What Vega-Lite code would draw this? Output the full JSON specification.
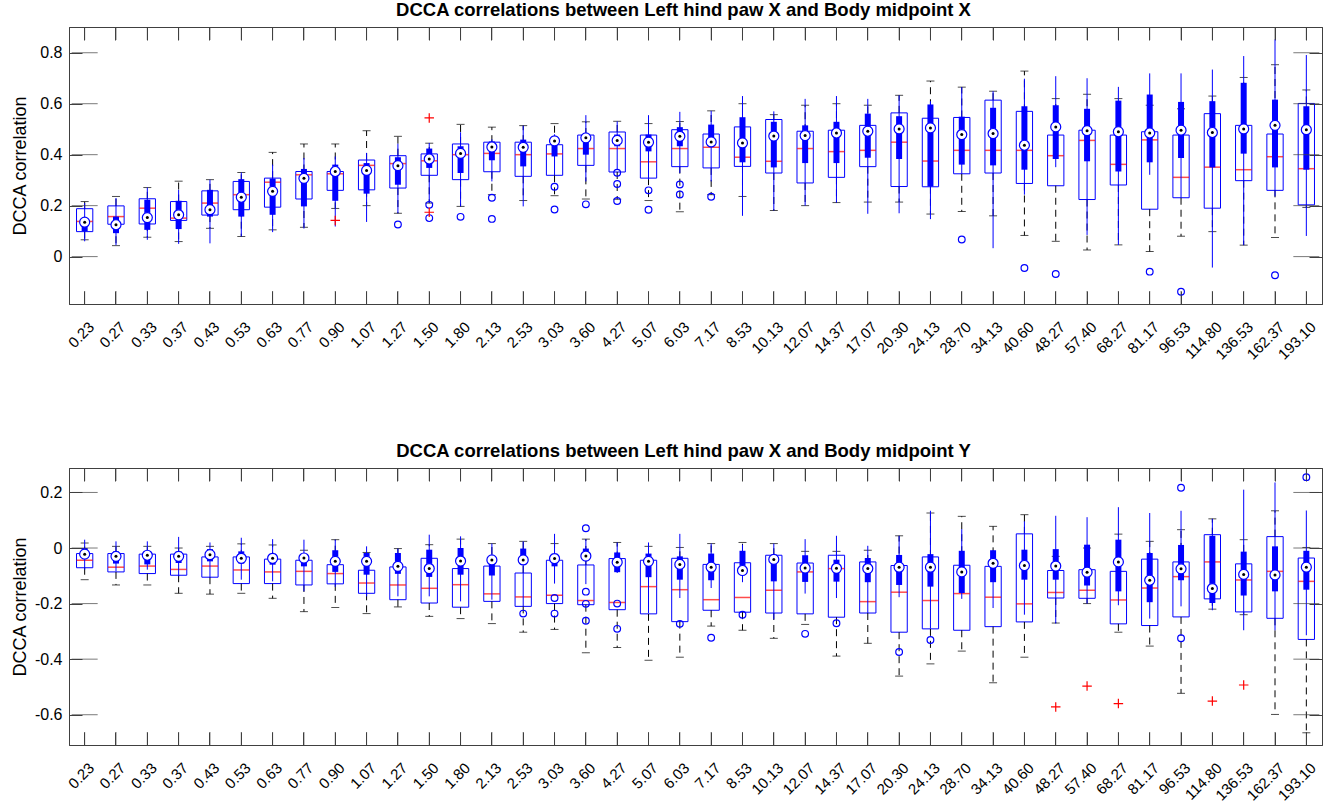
{
  "$schema": "https://vega.github.io/schema/vega-lite/v6.json",
  "padding": {"left": 10, "top": 0, "right": 0, "bottom": 0},
  "background": "white",
  "datasets": {
    "top": [
      {"s":"0.23","q1":0.098,"md":0.138,"q3":0.188,"lo":0.066,"hi":0.216,"c1":0.100,"cm":0.135,"c3":0.150,"cl":0.060,"ch":0.210},
      {"s":"0.27","q1":0.127,"md":0.157,"q3":0.199,"lo":0.043,"hi":0.236,"c1":0.092,"cm":0.125,"c3":0.157,"cl":0.045,"ch":0.230},
      {"s":"0.33","q1":0.128,"md":0.190,"q3":0.227,"lo":0.076,"hi":0.271,"c1":0.105,"cm":0.153,"c3":0.223,"cl":0.066,"ch":0.271},
      {"s":"0.37","q1":0.142,"md":0.151,"q3":0.216,"lo":0.059,"hi":0.296,"c1":0.108,"cm":0.164,"c3":0.219,"cl":0.050,"ch":0.262},
      {"s":"0.43","q1":0.163,"md":0.210,"q3":0.258,"lo":0.111,"hi":0.302,"c1":0.157,"cm":0.184,"c3":0.262,"cl":0.052,"ch":0.302},
      {"s":"0.53","q1":0.184,"md":0.243,"q3":0.295,"lo":0.079,"hi":0.330,"c1":0.157,"cm":0.233,"c3":0.304,"cl":0.079,"ch":0.330},
      {"s":"0.63","q1":0.194,"md":0.292,"q3":0.308,"lo":0.105,"hi":0.409,"c1":0.164,"cm":0.256,"c3":0.306,"cl":0.096,"ch":0.361},
      {"s":"0.77","q1":0.226,"md":0.321,"q3":0.334,"lo":0.115,"hi":0.442,"c1":0.197,"cm":0.307,"c3":0.344,"cl":0.110,"ch":0.387},
      {"s":"0.90","q1":0.260,"md":0.325,"q3":0.334,"lo":0.189,"hi":0.442,"c1":0.219,"cm":0.334,"c3":0.361,"cl":0.118,"ch":0.393},
      {"s":"1.07","q1":0.262,"md":0.358,"q3":0.379,"lo":0.200,"hi":0.494,"c1":0.247,"cm":0.338,"c3":0.367,"cl":0.136,"ch":0.407},
      {"s":"1.27","q1":0.269,"md":0.365,"q3":0.396,"lo":0.170,"hi":0.472,"c1":0.282,"cm":0.357,"c3":0.390,"cl":0.170,"ch":0.443},
      {"s":"1.50","q1":0.319,"md":0.376,"q3":0.403,"lo":0.210,"hi":0.445,"c1":0.348,"cm":0.383,"c3":0.424,"cl":0.210,"ch":0.446},
      {"s":"1.80","q1":0.302,"md":0.400,"q3":0.442,"lo":0.197,"hi":0.519,"c1":0.328,"cm":0.405,"c3":0.433,"cl":0.197,"ch":0.488},
      {"s":"2.13","q1":0.333,"md":0.405,"q3":0.449,"lo":0.243,"hi":0.508,"c1":0.378,"cm":0.430,"c3":0.452,"cl":0.295,"ch":0.460},
      {"s":"2.53","q1":0.315,"md":0.400,"q3":0.449,"lo":0.220,"hi":0.514,"c1":0.354,"cm":0.429,"c3":0.459,"cl":0.197,"ch":0.514},
      {"s":"3.03","q1":0.319,"md":0.403,"q3":0.439,"lo":0.239,"hi":0.522,"c1":0.393,"cm":0.454,"c3":0.472,"cl":0.320,"ch":0.480},
      {"s":"3.60","q1":0.358,"md":0.424,"q3":0.477,"lo":0.226,"hi":0.529,"c1":0.400,"cm":0.466,"c3":0.479,"cl":0.295,"ch":0.555},
      {"s":"4.27","q1":0.332,"md":0.424,"q3":0.489,"lo":0.225,"hi":0.531,"c1":0.433,"cm":0.456,"c3":0.479,"cl":0.340,"ch":0.531},
      {"s":"5.07","q1":0.308,"md":0.372,"q3":0.477,"lo":0.220,"hi":0.522,"c1":0.413,"cm":0.449,"c3":0.479,"cl":0.302,"ch":0.555},
      {"s":"6.03","q1":0.353,"md":0.424,"q3":0.498,"lo":0.176,"hi":0.530,"c1":0.433,"cm":0.472,"c3":0.508,"cl":0.328,"ch":0.568},
      {"s":"7.17","q1":0.348,"md":0.429,"q3":0.481,"lo":0.243,"hi":0.572,"c1":0.433,"cm":0.450,"c3":0.518,"cl":0.295,"ch":0.572},
      {"s":"8.53","q1":0.354,"md":0.390,"q3":0.509,"lo":0.236,"hi":0.600,"c1":0.370,"cm":0.446,"c3":0.547,"cl":0.160,"ch":0.630},
      {"s":"10.13","q1":0.328,"md":0.374,"q3":0.538,"lo":0.181,"hi":0.557,"c1":0.350,"cm":0.473,"c3":0.529,"cl":0.181,"ch":0.570},
      {"s":"12.07","q1":0.289,"md":0.424,"q3":0.492,"lo":0.200,"hi":0.594,"c1":0.367,"cm":0.475,"c3":0.515,"cl":0.200,"ch":0.619},
      {"s":"14.37","q1":0.311,"md":0.412,"q3":0.496,"lo":0.212,"hi":0.600,"c1":0.367,"cm":0.485,"c3":0.529,"cl":0.212,"ch":0.630},
      {"s":"17.07","q1":0.353,"md":0.417,"q3":0.515,"lo":0.214,"hi":0.594,"c1":0.388,"cm":0.492,"c3":0.561,"cl":0.168,"ch":0.619},
      {"s":"20.30","q1":0.275,"md":0.449,"q3":0.564,"lo":0.214,"hi":0.633,"c1":0.383,"cm":0.501,"c3":0.551,"cl":0.170,"ch":0.633},
      {"s":"24.13","q1":0.274,"md":0.375,"q3":0.543,"lo":0.167,"hi":0.689,"c1":0.275,"cm":0.505,"c3":0.597,"cl":0.147,"ch":0.610},
      {"s":"28.70","q1":0.325,"md":0.417,"q3":0.546,"lo":0.177,"hi":0.665,"c1":0.361,"cm":0.479,"c3":0.549,"cl":0.325,"ch":0.665},
      {"s":"34.13","q1":0.328,"md":0.417,"q3":0.614,"lo":0.160,"hi":0.649,"c1":0.358,"cm":0.483,"c3":0.584,"cl":0.033,"ch":0.649},
      {"s":"40.60","q1":0.287,"md":0.417,"q3":0.570,"lo":0.083,"hi":0.728,"c1":0.341,"cm":0.437,"c3":0.590,"cl":0.243,"ch":0.698},
      {"s":"48.27","q1":0.278,"md":0.396,"q3":0.477,"lo":0.060,"hi":0.620,"c1":0.383,"cm":0.509,"c3":0.594,"cl":0.351,"ch":0.708},
      {"s":"57.40","q1":0.224,"md":0.456,"q3":0.496,"lo":0.026,"hi":0.637,"c1":0.374,"cm":0.494,"c3":0.580,"cl":0.085,"ch":0.700},
      {"s":"68.27","q1":0.281,"md":0.362,"q3":0.477,"lo":0.046,"hi":0.620,"c1":0.334,"cm":0.490,"c3":0.612,"cl":0.046,"ch":0.666},
      {"s":"81.17","q1":0.186,"md":0.458,"q3":0.490,"lo":0.020,"hi":0.594,"c1":0.370,"cm":0.485,"c3":0.636,"cl":0.321,"ch":0.719},
      {"s":"96.53","q1":0.231,"md":0.311,"q3":0.477,"lo":0.080,"hi":0.580,"c1":0.387,"cm":0.496,"c3":0.607,"cl":0.231,"ch":0.719},
      {"s":"114.80","q1":0.190,"md":0.351,"q3":0.561,"lo":0.098,"hi":0.630,"c1":0.350,"cm":0.487,"c3":0.610,"cl":-0.043,"ch":0.734},
      {"s":"136.53","q1":0.298,"md":0.341,"q3":0.515,"lo":0.045,"hi":0.703,"c1":0.404,"cm":0.501,"c3":0.682,"cl":0.045,"ch":0.787},
      {"s":"162.37","q1":0.260,"md":0.392,"q3":0.481,"lo":0.075,"hi":0.753,"c1":0.350,"cm":0.515,"c3":0.616,"cl":0.236,"ch":0.852},
      {"s":"193.10","q1":0.203,"md":0.345,"q3":0.601,"lo":0.193,"hi":0.654,"c1":0.341,"cm":0.498,"c3":0.590,"cl":0.081,"ch":0.791}
    ],
    "topBlue": [
      {"s":"1.27","v":0.126},{"s":"1.50","v":0.203},{"s":"1.50","v":0.151},{"s":"1.80","v":0.156},
      {"s":"2.13","v":0.231},{"s":"2.13","v":0.148},{"s":"3.03","v":0.274},{"s":"3.03","v":0.185},
      {"s":"3.60","v":0.205},{"s":"4.27","v":0.329},{"s":"4.27","v":0.285},{"s":"4.27","v":0.218},
      {"s":"5.07","v":0.260},{"s":"5.07","v":0.184},{"s":"6.03","v":0.283},{"s":"6.03","v":0.244},
      {"s":"7.17","v":0.235},{"s":"28.70","v":0.067},{"s":"40.60","v":-0.045},{"s":"48.27","v":-0.068},
      {"s":"81.17","v":-0.059},{"s":"96.53","v":-0.138},{"s":"162.37","v":-0.073}
    ],
    "topRed": [
      {"s":"0.90","v":0.142},{"s":"1.50","v":0.544},{"s":"1.50","v":0.174}
    ],
    "topYL": [{"s":"0.23","t":0},{"s":"0.23","t":0.2},{"s":"0.23","t":0.4},{"s":"0.23","t":0.6},{"s":"0.23","t":0.8}],
    "topYR": [{"s":"193.10","t":0},{"s":"193.10","t":0.2},{"s":"193.10","t":0.4},{"s":"193.10","t":0.6},{"s":"193.10","t":0.8}],
    "bot": [
      {"s":"0.23","q1":-0.071,"md":-0.044,"q3":-0.020,"lo":-0.114,"hi":0.018,"c1":-0.030,"cm":-0.022,"c3":0.000,"cl":-0.078,"ch":0.030},
      {"s":"0.27","q1":-0.086,"md":-0.069,"q3":-0.020,"lo":-0.133,"hi":0.006,"c1":-0.056,"cm":-0.030,"c3":-0.012,"cl":-0.084,"ch":0.024},
      {"s":"0.33","q1":-0.092,"md":-0.065,"q3":-0.022,"lo":-0.133,"hi":0.006,"c1":-0.059,"cm":-0.026,"c3":-0.012,"cl":-0.078,"ch":0.024},
      {"s":"0.37","q1":-0.098,"md":-0.077,"q3":-0.022,"lo":-0.163,"hi":0.000,"c1":-0.054,"cm":-0.030,"c3":-0.012,"cl":-0.102,"ch":0.040},
      {"s":"0.43","q1":-0.105,"md":-0.065,"q3":-0.032,"lo":-0.166,"hi":0.006,"c1":-0.048,"cm":-0.024,"c3":-0.004,"cl":-0.108,"ch":0.020},
      {"s":"0.53","q1":-0.128,"md":-0.079,"q3":-0.032,"lo":-0.163,"hi":0.015,"c1":-0.056,"cm":-0.037,"c3":-0.012,"cl":-0.114,"ch":0.037},
      {"s":"0.63","q1":-0.128,"md":-0.086,"q3":-0.040,"lo":-0.181,"hi":0.011,"c1":-0.060,"cm":-0.037,"c3":-0.020,"cl":-0.120,"ch":0.032},
      {"s":"0.77","q1":-0.133,"md":-0.084,"q3":-0.044,"lo":-0.229,"hi":-0.008,"c1":-0.066,"cm":-0.036,"c3":-0.024,"cl":-0.156,"ch":0.030},
      {"s":"0.90","q1":-0.129,"md":-0.092,"q3":-0.060,"lo":-0.214,"hi":0.030,"c1":-0.086,"cm":-0.048,"c3":-0.008,"cl":-0.140,"ch":0.030},
      {"s":"1.07","q1":-0.163,"md":-0.126,"q3":-0.080,"lo":-0.236,"hi":-0.016,"c1":-0.096,"cm":-0.048,"c3":-0.018,"cl":-0.174,"ch":0.006},
      {"s":"1.27","q1":-0.186,"md":-0.133,"q3":-0.068,"lo":-0.212,"hi":-0.002,"c1":-0.093,"cm":-0.066,"c3":-0.018,"cl":-0.174,"ch":-0.002},
      {"s":"1.50","q1":-0.198,"md":-0.145,"q3":-0.037,"lo":-0.246,"hi":0.012,"c1":-0.104,"cm":-0.074,"c3":-0.006,"cl":-0.174,"ch":0.048},
      {"s":"1.80","q1":-0.213,"md":-0.132,"q3":-0.074,"lo":-0.254,"hi":0.032,"c1":-0.096,"cm":-0.047,"c3":0.000,"cl":-0.192,"ch":0.042},
      {"s":"2.13","q1":-0.192,"md":-0.165,"q3":-0.065,"lo":-0.272,"hi":0.016,"c1":-0.099,"cm":-0.043,"c3":-0.036,"cl":-0.186,"ch":0.016},
      {"s":"2.53","q1":-0.210,"md":-0.176,"q3":-0.090,"lo":-0.303,"hi":0.024,"c1":-0.060,"cm":-0.043,"c3":-0.002,"cl":-0.210,"ch":0.024},
      {"s":"3.03","q1":-0.200,"md":-0.170,"q3":-0.044,"lo":-0.293,"hi":0.016,"c1":-0.066,"cm":-0.038,"c3":-0.020,"cl":-0.128,"ch":0.051},
      {"s":"3.60","q1":-0.204,"md":-0.189,"q3":-0.061,"lo":-0.377,"hi":0.032,"c1":-0.042,"cm":-0.029,"c3":-0.002,"cl":-0.130,"ch":0.032},
      {"s":"4.27","q1":-0.222,"md":-0.196,"q3":-0.038,"lo":-0.358,"hi":0.020,"c1":-0.087,"cm":-0.051,"c3":-0.016,"cl":-0.090,"ch":0.020},
      {"s":"5.07","q1":-0.237,"md":-0.139,"q3":-0.044,"lo":-0.404,"hi":0.006,"c1":-0.105,"cm":-0.048,"c3":-0.020,"cl":-0.234,"ch":0.020},
      {"s":"6.03","q1":-0.265,"md":-0.150,"q3":-0.037,"lo":-0.393,"hi":0.002,"c1":-0.114,"cm":-0.059,"c3":-0.030,"cl":-0.180,"ch":0.051},
      {"s":"7.17","q1":-0.224,"md":-0.186,"q3":-0.059,"lo":-0.281,"hi":0.016,"c1":-0.116,"cm":-0.069,"c3":-0.020,"cl":-0.144,"ch":0.016},
      {"s":"8.53","q1":-0.231,"md":-0.178,"q3":-0.053,"lo":-0.296,"hi":0.020,"c1":-0.095,"cm":-0.081,"c3":-0.010,"cl":-0.123,"ch":0.012},
      {"s":"10.13","q1":-0.234,"md":-0.152,"q3":-0.026,"lo":-0.325,"hi":0.016,"c1":-0.120,"cm":-0.041,"c3":-0.024,"cl":-0.257,"ch":0.016},
      {"s":"12.07","q1":-0.237,"md":-0.086,"q3":-0.054,"lo":-0.275,"hi":-0.012,"c1":-0.122,"cm":-0.072,"c3":-0.026,"cl":-0.164,"ch":0.032},
      {"s":"14.37","q1":-0.249,"md":-0.074,"q3":-0.026,"lo":-0.389,"hi":-0.012,"c1":-0.121,"cm":-0.073,"c3":-0.042,"cl":-0.180,"ch":0.044},
      {"s":"17.07","q1":-0.234,"md":-0.193,"q3":-0.050,"lo":-0.343,"hi":-0.008,"c1":-0.123,"cm":-0.074,"c3":-0.036,"cl":-0.234,"ch":0.008},
      {"s":"20.30","q1":-0.303,"md":-0.159,"q3":-0.063,"lo":-0.461,"hi":0.044,"c1":-0.133,"cm":-0.069,"c3":-0.025,"cl":-0.177,"ch":0.044},
      {"s":"24.13","q1":-0.291,"md":-0.189,"q3":-0.032,"lo":-0.417,"hi":0.126,"c1":-0.139,"cm":-0.069,"c3":-0.022,"cl":-0.290,"ch":0.134},
      {"s":"28.70","q1":-0.296,"md":-0.164,"q3":-0.062,"lo":-0.371,"hi":0.114,"c1":-0.162,"cm":-0.086,"c3":-0.010,"cl":-0.183,"ch":0.068},
      {"s":"34.13","q1":-0.283,"md":-0.177,"q3":-0.066,"lo":-0.485,"hi":0.078,"c1":-0.123,"cm":-0.055,"c3":-0.008,"cl":-0.216,"ch":-0.008},
      {"s":"40.60","q1":-0.266,"md":-0.201,"q3":0.051,"lo":-0.393,"hi":0.120,"c1":-0.114,"cm":-0.063,"c3":-0.006,"cl":-0.240,"ch":0.096},
      {"s":"48.27","q1":-0.180,"md":-0.160,"q3":-0.081,"lo":-0.270,"hi":-0.030,"c1":-0.114,"cm":-0.065,"c3":-0.004,"cl":-0.272,"ch":0.116},
      {"s":"57.40","q1":-0.181,"md":-0.152,"q3":-0.078,"lo":-0.200,"hi":0.000,"c1":-0.135,"cm":-0.087,"c3":0.012,"cl":-0.200,"ch":0.111},
      {"s":"68.27","q1":-0.273,"md":-0.187,"q3":-0.084,"lo":-0.303,"hi":0.050,"c1":-0.156,"cm":-0.050,"c3":0.030,"cl":-0.206,"ch":0.147},
      {"s":"81.17","q1":-0.279,"md":-0.144,"q3":-0.040,"lo":-0.353,"hi":0.024,"c1":-0.195,"cm":-0.116,"c3":-0.018,"cl":-0.254,"ch":0.126},
      {"s":"96.53","q1":-0.248,"md":-0.103,"q3":-0.050,"lo":-0.523,"hi":0.066,"c1":-0.116,"cm":-0.075,"c3":0.011,"cl":-0.210,"ch":0.134},
      {"s":"114.80","q1":-0.183,"md":-0.050,"q3":0.048,"lo":-0.220,"hi":0.105,"c1":-0.198,"cm":-0.146,"c3":0.044,"cl":-0.224,"ch":0.105},
      {"s":"136.53","q1":-0.230,"md":-0.115,"q3":-0.057,"lo":-0.240,"hi":0.030,"c1":-0.171,"cm":-0.095,"c3":-0.013,"cl":-0.296,"ch":0.210},
      {"s":"162.37","q1":-0.253,"md":-0.084,"q3":0.041,"lo":-0.599,"hi":0.134,"c1":-0.156,"cm":-0.097,"c3":0.006,"cl":-0.296,"ch":0.236},
      {"s":"193.10","q1":-0.329,"md":-0.120,"q3":-0.036,"lo":-0.665,"hi":0.002,"c1":-0.150,"cm":-0.069,"c3":-0.010,"cl":-0.314,"ch":0.135}
    ],
    "botBlue": [
      {"s":"2.53","v":-0.236},{"s":"3.03","v":-0.180},{"s":"3.03","v":-0.236},
      {"s":"3.60","v":0.071},{"s":"3.60","v":-0.157},{"s":"3.60","v":-0.201},{"s":"3.60","v":-0.262},
      {"s":"4.27","v":-0.200},{"s":"4.27","v":-0.291},{"s":"6.03","v":-0.273},{"s":"7.17","v":-0.323},
      {"s":"8.53","v":-0.240},{"s":"12.07","v":-0.309},{"s":"14.37","v":-0.271},{"s":"20.30","v":-0.374},
      {"s":"24.13","v":-0.331},{"s":"96.53","v":0.217},{"s":"96.53","v":-0.325},{"s":"193.10","v":0.255}
    ],
    "botRed": [
      {"s":"48.27","v":-0.572},{"s":"57.40","v":-0.497},{"s":"68.27","v":-0.560},
      {"s":"114.80","v":-0.551},{"s":"136.53","v":-0.493}
    ],
    "botYL": [{"s":"0.23","t":-0.6},{"s":"0.23","t":-0.4},{"s":"0.23","t":-0.2},{"s":"0.23","t":0},{"s":"0.23","t":0.2}],
    "botYR": [{"s":"193.10","t":-0.6},{"s":"193.10","t":-0.4},{"s":"193.10","t":-0.2},{"s":"193.10","t":0},{"s":"193.10","t":0.2}]
  },
  "vconcat": [
    {
      "width": 1253,
      "height": 277,
      "title": {"text": "DCCA correlations between Left hind paw X and Body midpoint X", "dx": -12},
      "data": {"name": "top"},
      "encoding": {
        "x": {"field": "s", "type": "ordinal", "axis": null,
          "scale": {"type": "band", "paddingInner": 0, "paddingOuter": 0, "domain": ["0.23","0.27","0.33","0.37","0.43","0.53","0.63","0.77","0.90","1.07","1.27","1.50","1.80","2.13","2.53","3.03","3.60","4.27","5.07","6.03","7.17","8.53","10.13","12.07","14.37","17.07","20.30","24.13","28.70","34.13","40.60","48.27","57.40","68.27","81.17","96.53","114.80","136.53","162.37","193.10"]}}
      },
      "layer": [
        {
          "mark": {"type": "bar", "filled": false, "stroke": "#0000ff", "strokeWidth": 1, "width": {"band": 0.52}},
          "encoding": {
            "x": {"field": "s", "type": "ordinal",
              "scale": {"type": "band", "paddingInner": 0, "paddingOuter": 0, "domain": ["0.23","0.27","0.33","0.37","0.43","0.53","0.63","0.77","0.90","1.07","1.27","1.50","1.80","2.13","2.53","3.03","3.60","4.27","5.07","6.03","7.17","8.53","10.13","12.07","14.37","17.07","20.30","24.13","28.70","34.13","40.60","48.27","57.40","68.27","81.17","96.53","114.80","136.53","162.37","193.10"]},
              "axis": {"orient": "bottom", "title": null, "labelAngle": -45, "labelPadding": 28, "labelOffset": 2, "labelFontSize": 15,
                "ticks": true, "tickSize": -13, "tickColor": "#404040", "tickWidth": 1, "tickOpacity": 1, "domain": true, "domainColor": "#404040", "grid": false}},
            "y": {"field": "q1", "type": "quantitative", "scale": {"domain": [-0.186, 0.901], "nice": false, "zero": false},
              "axis": {"orient": "left", "title": "DCCA correlation", "values": [0, 0.2, 0.4, 0.6, 0.8], "labelPadding": 20, "titleX": -44, "titleBaseline": "alphabetic",
                "ticks": true, "tickSize": -13, "tickColor": "#404040", "tickWidth": 1, "tickOpacity": 1, "domain": true, "domainColor": "#404040", "grid": false,
                "labelExpr": "datum.value < 0 ? '-' + format(-datum.value, '.1~f') : format(datum.value, '.1~f')"}},
            "y2": {"field": "q3"}
          }
        },
        {
          "mark": {"type": "rule", "color": "#000000", "strokeWidth": 1, "strokeDash": [7, 5]},
          "encoding": {
            "x": {"field": "s", "type": "ordinal",
              "scale": {"type": "band", "paddingInner": 0, "paddingOuter": 0, "domain": ["0.23","0.27","0.33","0.37","0.43","0.53","0.63","0.77","0.90","1.07","1.27","1.50","1.80","2.13","2.53","3.03","3.60","4.27","5.07","6.03","7.17","8.53","10.13","12.07","14.37","17.07","20.30","24.13","28.70","34.13","40.60","48.27","57.40","68.27","81.17","96.53","114.80","136.53","162.37","193.10"]},
              "axis": {"orient": "top", "title": null, "labels": false,
                "ticks": true, "tickSize": -13, "tickColor": "#404040", "tickWidth": 1, "tickOpacity": 1, "domain": true, "domainColor": "#404040", "grid": false}},
            "y": {"field": "q3", "type": "quantitative", "scale": {"domain": [-0.186, 0.901], "nice": false, "zero": false},
              "axis": {"orient": "right", "title": null, "labels": false, "values": [0, 0.2, 0.4, 0.6, 0.8],
                "ticks": true, "tickSize": -13, "tickColor": "#404040", "tickWidth": 1, "tickOpacity": 1, "domain": true, "domainColor": "#404040", "grid": false}},
            "y2": {"field": "hi"}
          }
        },
        {
          "mark": {"type": "rule", "color": "#000000", "strokeWidth": 1, "strokeDash": [7, 5]},
          "encoding": {
            "y": {"field": "q1", "type": "quantitative", "scale": {"domain": [-0.186, 0.901], "nice": false, "zero": false}, "axis": null},
            "y2": {"field": "lo"}
          }
        },
        {
          "mark": {"type": "tick", "color": "#000000", "size": 8, "thickness": 1},
          "encoding": {"y": {"field": "hi", "type": "quantitative", "scale": {"domain": [-0.186, 0.901], "nice": false, "zero": false}, "axis": null}}
        },
        {
          "mark": {"type": "tick", "color": "#000000", "size": 8, "thickness": 1},
          "encoding": {"y": {"field": "lo", "type": "quantitative", "scale": {"domain": [-0.186, 0.901], "nice": false, "zero": false}, "axis": null}}
        },
        {
          "mark": {"type": "tick", "color": "#ff0000", "size": 16, "thickness": 1.5},
          "encoding": {"y": {"field": "md", "type": "quantitative", "scale": {"domain": [-0.186, 0.901], "nice": false, "zero": false}, "axis": null}}
        },
        {
          "mark": {"type": "rule", "color": "#0000ff", "strokeWidth": 1},
          "encoding": {
            "y": {"field": "cl", "type": "quantitative", "scale": {"domain": [-0.186, 0.901], "nice": false, "zero": false}, "axis": null},
            "y2": {"field": "ch"}
          }
        },
        {
          "mark": {"type": "bar", "color": "#0000ff", "width": 6},
          "encoding": {
            "y": {"field": "c1", "type": "quantitative", "scale": {"domain": [-0.186, 0.901], "nice": false, "zero": false}, "axis": null},
            "y2": {"field": "c3"}
          }
        },
        {
          "mark": {"type": "point", "filled": true, "fill": "#ffffff", "stroke": "#0000ff", "strokeWidth": 1.2, "size": 100, "opacity": 1},
          "encoding": {"y": {"field": "cm", "type": "quantitative", "scale": {"domain": [-0.186, 0.901], "nice": false, "zero": false}, "axis": null}}
        },
        {
          "mark": {"type": "circle", "color": "#000000", "size": 9, "opacity": 1},
          "encoding": {"y": {"field": "cm", "type": "quantitative", "scale": {"domain": [-0.186, 0.901], "nice": false, "zero": false}, "axis": null}}
        },
        {
          "data": {"name": "topBlue"},
          "mark": {"type": "point", "filled": false, "color": "#0000ff", "strokeWidth": 1.2, "size": 45, "opacity": 1},
          "encoding": {"y": {"field": "v", "type": "quantitative", "scale": {"domain": [-0.186, 0.901], "nice": false, "zero": false}, "axis": null}}
        },
        {
          "data": {"name": "topRed"},
          "mark": {"type": "point", "filled": false, "shape": "M-1,0L1,0M0,-1L0,1", "color": "#ff0000", "strokeWidth": 1.2, "size": 90, "opacity": 1},
          "encoding": {"y": {"field": "v", "type": "quantitative", "scale": {"domain": [-0.186, 0.901], "nice": false, "zero": false}, "axis": null}}
        },
        {
          "mark": {"type": "tick", "orient": "vertical", "color": "#404040", "size": 26, "thickness": 1, "clip": true},
          "encoding": {"y": {"datum": -0.186, "type": "quantitative", "scale": {"domain": [-0.186, 0.901], "nice": false, "zero": false}, "axis": null}}
        },
        {
          "mark": {"type": "tick", "orient": "vertical", "color": "#404040", "size": 26, "thickness": 1, "clip": true},
          "encoding": {"y": {"datum": 0.901, "type": "quantitative", "scale": {"domain": [-0.186, 0.901], "nice": false, "zero": false}, "axis": null}}
        },
        {
          "data": {"name": "topYL"},
          "mark": {"type": "tick", "orient": "horizontal", "color": "#404040", "size": 26, "thickness": 1, "clip": true},
          "encoding": {
            "x": {"field": "s", "type": "ordinal", "bandPosition": 0, "axis": null,
              "scale": {"type": "band", "paddingInner": 0, "paddingOuter": 0, "domain": ["0.23","0.27","0.33","0.37","0.43","0.53","0.63","0.77","0.90","1.07","1.27","1.50","1.80","2.13","2.53","3.03","3.60","4.27","5.07","6.03","7.17","8.53","10.13","12.07","14.37","17.07","20.30","24.13","28.70","34.13","40.60","48.27","57.40","68.27","81.17","96.53","114.80","136.53","162.37","193.10"]}},
            "y": {"field": "t", "type": "quantitative", "scale": {"domain": [-0.186, 0.901], "nice": false, "zero": false}, "axis": null}
          }
        },
        {
          "data": {"name": "topYR"},
          "mark": {"type": "tick", "orient": "horizontal", "color": "#404040", "size": 26, "thickness": 1, "clip": true},
          "encoding": {
            "x": {"field": "s", "type": "ordinal", "bandPosition": 1, "axis": null,
              "scale": {"type": "band", "paddingInner": 0, "paddingOuter": 0, "domain": ["0.23","0.27","0.33","0.37","0.43","0.53","0.63","0.77","0.90","1.07","1.27","1.50","1.80","2.13","2.53","3.03","3.60","4.27","5.07","6.03","7.17","8.53","10.13","12.07","14.37","17.07","20.30","24.13","28.70","34.13","40.60","48.27","57.40","68.27","81.17","96.53","114.80","136.53","162.37","193.10"]}},
            "y": {"field": "t", "type": "quantitative", "scale": {"domain": [-0.186, 0.901], "nice": false, "zero": false}, "axis": null}
          }
        }
      ]
    },
    {
      "width": 1253,
      "height": 277,
      "title": {"text": "DCCA correlations between Left hind paw X and Body midpoint Y", "dx": -12},
      "data": {"name": "bot"},
      "encoding": {
        "x": {"field": "s", "type": "ordinal", "axis": null,
          "scale": {"type": "band", "paddingInner": 0, "paddingOuter": 0, "domain": ["0.23","0.27","0.33","0.37","0.43","0.53","0.63","0.77","0.90","1.07","1.27","1.50","1.80","2.13","2.53","3.03","3.60","4.27","5.07","6.03","7.17","8.53","10.13","12.07","14.37","17.07","20.30","24.13","28.70","34.13","40.60","48.27","57.40","68.27","81.17","96.53","114.80","136.53","162.37","193.10"]}}
      },
      "layer": [
        {
          "mark": {"type": "bar", "filled": false, "stroke": "#0000ff", "strokeWidth": 1, "width": {"band": 0.52}},
          "encoding": {
            "x": {"field": "s", "type": "ordinal",
              "scale": {"type": "band", "paddingInner": 0, "paddingOuter": 0, "domain": ["0.23","0.27","0.33","0.37","0.43","0.53","0.63","0.77","0.90","1.07","1.27","1.50","1.80","2.13","2.53","3.03","3.60","4.27","5.07","6.03","7.17","8.53","10.13","12.07","14.37","17.07","20.30","24.13","28.70","34.13","40.60","48.27","57.40","68.27","81.17","96.53","114.80","136.53","162.37","193.10"]},
              "axis": {"orient": "bottom", "title": null, "labelAngle": -45, "labelPadding": 28, "labelOffset": 2, "labelFontSize": 15,
                "ticks": true, "tickSize": -13, "tickColor": "#404040", "tickWidth": 1, "tickOpacity": 1, "domain": true, "domainColor": "#404040", "grid": false}},
            "y": {"field": "q1", "type": "quantitative", "scale": {"domain": [-0.709, 0.288], "nice": false, "zero": false},
              "axis": {"orient": "left", "title": "DCCA correlation", "values": [-0.6, -0.4, -0.2, 0, 0.2], "labelPadding": 20, "titleX": -44, "titleBaseline": "alphabetic",
                "ticks": true, "tickSize": -13, "tickColor": "#404040", "tickWidth": 1, "tickOpacity": 1, "domain": true, "domainColor": "#404040", "grid": false,
                "labelExpr": "datum.value < 0 ? '-' + format(-datum.value, '.1~f') : format(datum.value, '.1~f')"}},
            "y2": {"field": "q3"}
          }
        },
        {
          "mark": {"type": "rule", "color": "#000000", "strokeWidth": 1, "strokeDash": [7, 5]},
          "encoding": {
            "x": {"field": "s", "type": "ordinal",
              "scale": {"type": "band", "paddingInner": 0, "paddingOuter": 0, "domain": ["0.23","0.27","0.33","0.37","0.43","0.53","0.63","0.77","0.90","1.07","1.27","1.50","1.80","2.13","2.53","3.03","3.60","4.27","5.07","6.03","7.17","8.53","10.13","12.07","14.37","17.07","20.30","24.13","28.70","34.13","40.60","48.27","57.40","68.27","81.17","96.53","114.80","136.53","162.37","193.10"]},
              "axis": {"orient": "top", "title": null, "labels": false,
                "ticks": true, "tickSize": -13, "tickColor": "#404040", "tickWidth": 1, "tickOpacity": 1, "domain": true, "domainColor": "#404040", "grid": false}},
            "y": {"field": "q3", "type": "quantitative", "scale": {"domain": [-0.709, 0.288], "nice": false, "zero": false},
              "axis": {"orient": "right", "title": null, "labels": false, "values": [-0.6, -0.4, -0.2, 0, 0.2],
                "ticks": true, "tickSize": -13, "tickColor": "#404040", "tickWidth": 1, "tickOpacity": 1, "domain": true, "domainColor": "#404040", "grid": false}},
            "y2": {"field": "hi"}
          }
        },
        {
          "mark": {"type": "rule", "color": "#000000", "strokeWidth": 1, "strokeDash": [7, 5]},
          "encoding": {
            "y": {"field": "q1", "type": "quantitative", "scale": {"domain": [-0.709, 0.288], "nice": false, "zero": false}, "axis": null},
            "y2": {"field": "lo"}
          }
        },
        {
          "mark": {"type": "tick", "color": "#000000", "size": 8, "thickness": 1},
          "encoding": {"y": {"field": "hi", "type": "quantitative", "scale": {"domain": [-0.709, 0.288], "nice": false, "zero": false}, "axis": null}}
        },
        {
          "mark": {"type": "tick", "color": "#000000", "size": 8, "thickness": 1},
          "encoding": {"y": {"field": "lo", "type": "quantitative", "scale": {"domain": [-0.709, 0.288], "nice": false, "zero": false}, "axis": null}}
        },
        {
          "mark": {"type": "tick", "color": "#ff0000", "size": 16, "thickness": 1.5},
          "encoding": {"y": {"field": "md", "type": "quantitative", "scale": {"domain": [-0.709, 0.288], "nice": false, "zero": false}, "axis": null}}
        },
        {
          "mark": {"type": "rule", "color": "#0000ff", "strokeWidth": 1},
          "encoding": {
            "y": {"field": "cl", "type": "quantitative", "scale": {"domain": [-0.709, 0.288], "nice": false, "zero": false}, "axis": null},
            "y2": {"field": "ch"}
          }
        },
        {
          "mark": {"type": "bar", "color": "#0000ff", "width": 6},
          "encoding": {
            "y": {"field": "c1", "type": "quantitative", "scale": {"domain": [-0.709, 0.288], "nice": false, "zero": false}, "axis": null},
            "y2": {"field": "c3"}
          }
        },
        {
          "mark": {"type": "point", "filled": true, "fill": "#ffffff", "stroke": "#0000ff", "strokeWidth": 1.2, "size": 100, "opacity": 1},
          "encoding": {"y": {"field": "cm", "type": "quantitative", "scale": {"domain": [-0.709, 0.288], "nice": false, "zero": false}, "axis": null}}
        },
        {
          "mark": {"type": "circle", "color": "#000000", "size": 9, "opacity": 1},
          "encoding": {"y": {"field": "cm", "type": "quantitative", "scale": {"domain": [-0.709, 0.288], "nice": false, "zero": false}, "axis": null}}
        },
        {
          "data": {"name": "botBlue"},
          "mark": {"type": "point", "filled": false, "color": "#0000ff", "strokeWidth": 1.2, "size": 45, "opacity": 1},
          "encoding": {"y": {"field": "v", "type": "quantitative", "scale": {"domain": [-0.709, 0.288], "nice": false, "zero": false}, "axis": null}}
        },
        {
          "data": {"name": "botRed"},
          "mark": {"type": "point", "filled": false, "shape": "M-1,0L1,0M0,-1L0,1", "color": "#ff0000", "strokeWidth": 1.2, "size": 90, "opacity": 1},
          "encoding": {"y": {"field": "v", "type": "quantitative", "scale": {"domain": [-0.709, 0.288], "nice": false, "zero": false}, "axis": null}}
        },
        {
          "mark": {"type": "tick", "orient": "vertical", "color": "#404040", "size": 26, "thickness": 1, "clip": true},
          "encoding": {"y": {"datum": -0.709, "type": "quantitative", "scale": {"domain": [-0.709, 0.288], "nice": false, "zero": false}, "axis": null}}
        },
        {
          "mark": {"type": "tick", "orient": "vertical", "color": "#404040", "size": 26, "thickness": 1, "clip": true},
          "encoding": {"y": {"datum": 0.288, "type": "quantitative", "scale": {"domain": [-0.709, 0.288], "nice": false, "zero": false}, "axis": null}}
        },
        {
          "data": {"name": "botYL"},
          "mark": {"type": "tick", "orient": "horizontal", "color": "#404040", "size": 26, "thickness": 1, "clip": true},
          "encoding": {
            "x": {"field": "s", "type": "ordinal", "bandPosition": 0, "axis": null,
              "scale": {"type": "band", "paddingInner": 0, "paddingOuter": 0, "domain": ["0.23","0.27","0.33","0.37","0.43","0.53","0.63","0.77","0.90","1.07","1.27","1.50","1.80","2.13","2.53","3.03","3.60","4.27","5.07","6.03","7.17","8.53","10.13","12.07","14.37","17.07","20.30","24.13","28.70","34.13","40.60","48.27","57.40","68.27","81.17","96.53","114.80","136.53","162.37","193.10"]}},
            "y": {"field": "t", "type": "quantitative", "scale": {"domain": [-0.709, 0.288], "nice": false, "zero": false}, "axis": null}
          }
        },
        {
          "data": {"name": "botYR"},
          "mark": {"type": "tick", "orient": "horizontal", "color": "#404040", "size": 26, "thickness": 1, "clip": true},
          "encoding": {
            "x": {"field": "s", "type": "ordinal", "bandPosition": 1, "axis": null,
              "scale": {"type": "band", "paddingInner": 0, "paddingOuter": 0, "domain": ["0.23","0.27","0.33","0.37","0.43","0.53","0.63","0.77","0.90","1.07","1.27","1.50","1.80","2.13","2.53","3.03","3.60","4.27","5.07","6.03","7.17","8.53","10.13","12.07","14.37","17.07","20.30","24.13","28.70","34.13","40.60","48.27","57.40","68.27","81.17","96.53","114.80","136.53","162.37","193.10"]}},
            "y": {"field": "t", "type": "quantitative", "scale": {"domain": [-0.709, 0.288], "nice": false, "zero": false}, "axis": null}
          }
        }
      ]
    }
  ],
  "spacing": 164,
  "bounds": "flush",
  "config": {
    "font": "Liberation Sans",
    "view": {"stroke": "#404040", "strokeWidth": 1},
    "axis": {
      "labelFont": "Liberation Sans",
      "labelFontSize": 16,
      "labelColor": "#000000",
      "titleFont": "Liberation Sans",
      "titleFontSize": 18,
      "titleFontWeight": "normal",
      "titleColor": "#000000"
    },
    "title": {"font": "Liberation Sans", "fontSize": 18.5, "fontWeight": "bold", "color": "#000000", "offset": 7.5, "anchor": "middle"}
  }
}
